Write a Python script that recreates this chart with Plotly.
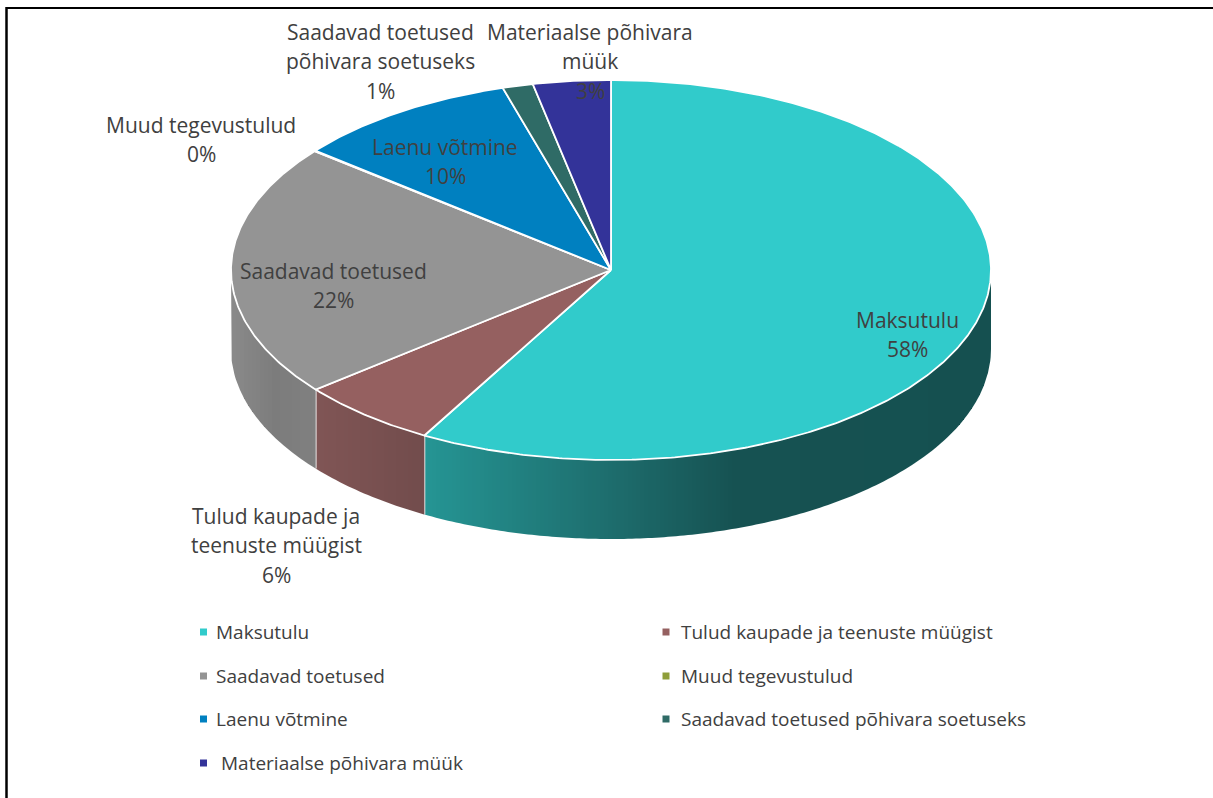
import math
import plotly.graph_objects as go

# ---- data ----
categories = ["Maksutulu", "Tulud kaupade ja teenuste müügist", "Saadavad toetused",
              "Muud tegevustulud", "Laenu võtmine", "Saadavad toetused põhivara soetuseks",
              "Materiaalse põhivara müük"]
values = [58.2, 6.0, 21.6, 0.05, 9.6, 1.3, 3.3]
label_lines = [["Maksutulu"], ["Tulud kaupade ja", "teenuste müügist"], ["Saadavad toetused"],
               ["Muud tegevustulud"], ["Laenu võtmine"], ["Saadavad toetused", "põhivara soetuseks"],
               ["Materiaalse põhivara", "müük"]]

# ---- style ----
top_colors = ["#31CBCB", "#956060", "#949494", "#8F9E3A", "#0080C0", "#2F6B66", "#333399"]
side_stops = {
    0: [(425, "#259594"), (620, "#1D6B6B"), (735, "#165252"), (991, "#155050")],
    1: [(316, "#805555"), (425, "#724C4C")],
    2: [(232, "#8A8A8A"), (275, "#7C7C7C"), (316, "#808080")],
}
CX, CY, RX, RY, DEPTH = 611, 270, 380, 190, 79
STRIP_PX = 4
label_pos = [(907, 320), (276, 516), (333, 271), (201, 125), (445, 147), (380, 32), (590, 32)]
LINE_H = 29.3
legend_pos = [(203.5, 632), (666, 632), (203.5, 676), (666, 676), (203.5, 719), (666, 719), (203.5, 763)]
legend_text_dx = [10.5, 12.5, 10.5, 12.5, 10.5, 12.5, 15.5]
FONT = "Open Sans"
LABEL_SIZE = 21
LEGEND_SIZE = 19
TEXT = "#404040"


def pt(theta, dy=0):
    return CX + RX * math.sin(theta), CY - RY * math.cos(theta) + dy


def hex2rgb(h):
    return [int(h[i:i + 2], 16) for i in (1, 3, 5)]


def side_color(i, x):
    stops = side_stops[i]
    if x <= stops[0][0]:
        return stops[0][1]
    for (x0, c0), (x1, c1) in zip(stops, stops[1:]):
        if x <= x1:
            t = (x - x0) / (x1 - x0)
            a, b = hex2rgb(c0), hex2rgb(c1)
            return "rgb(%d,%d,%d)" % tuple(round(p + (q - p) * t) for p, q in zip(a, b))
    return stops[-1][1]


total = sum(values)
edges = [0.0]
for v in values:
    edges.append(edges[-1] + v / total * 2 * math.pi)

fig = go.Figure()

# extruded side of the front half, cut in strips on whole pixels so the seams stay invisible
for i in range(len(values)):
    a0, a1 = max(edges[i], math.pi / 2), min(edges[i + 1], 3 * math.pi / 2)
    if a1 <= a0:
        continue
    x_hi, x_lo = pt(a0)[0], pt(a1)[0]
    cuts = [a0]
    x = math.floor(x_hi / STRIP_PX) * STRIP_PX
    while x > x_lo:
        cuts.append(math.pi - math.asin((x - CX) / RX))
        x -= STRIP_PX
    cuts.append(a1)
    for t0, t1 in zip(cuts, cuts[1:]):
        if t1 <= t0:
            continue
        sub = [t0 + (t1 - t0) * j / 6 for j in range(7)]
        top = [pt(t) for t in sub]
        bot = [pt(t, DEPTH) for t in reversed(sub)]
        xs = [p[0] for p in top + bot]
        ys = [p[1] for p in top + bot]
        c = side_color(i, (top[0][0] + top[-1][0]) / 2)
        fig.add_trace(go.Scatter(x=xs, y=ys, mode="lines", fill="toself", fillcolor=c,
                                 line=dict(width=0), hoverinfo="skip", showlegend=False))
    # white edge at the end of the slice's visible side
    if a1 < 3 * math.pi / 2:
        p, q = pt(a1), pt(a1, DEPTH)
        fig.add_trace(go.Scatter(x=[p[0], q[0]], y=[p[1], q[1]], mode="lines",
                                 line=dict(color="#F2F2F2", width=1.8), hoverinfo="skip", showlegend=False))

# top face
for i, name in enumerate(categories):
    n = max(2, int((edges[i + 1] - edges[i]) / math.radians(0.5)))
    pts = [pt(edges[i] + (edges[i + 1] - edges[i]) * k / n) for k in range(n + 1)]
    xs = [CX] + [p[0] for p in pts] + [CX]
    ys = [CY] + [p[1] for p in pts] + [CY]
    fig.add_trace(go.Scatter(x=xs, y=ys, mode="lines", fill="toself", fillcolor=top_colors[i],
                             line=dict(color="white", width=1.8), name=name,
                             hoverinfo="name", showlegend=False))

# legend built from markers and text
for i, name in enumerate(categories):
    lx, ly = legend_pos[i]
    fig.add_trace(go.Scatter(x=[lx], y=[ly], mode="markers", hoverinfo="skip", showlegend=False,
                             marker=dict(symbol="square", size=7, color=top_colors[i], line=dict(width=0))))
    fig.add_annotation(x=lx + legend_text_dx[i], y=ly, text=name, showarrow=False, xanchor="left",
                       yanchor="middle", font=dict(family=FONT, size=LEGEND_SIZE, color=TEXT))

# data labels, one annotation per line to hold the wide leading
for i, lines in enumerate(label_lines):
    lx, ly = label_pos[i]
    pct = "%d%%" % round(values[i] / total * 100)
    for j, s in enumerate(lines + [pct]):
        fig.add_annotation(x=lx, y=ly + j * LINE_H, text=s, showarrow=False, xanchor="center",
                           yanchor="middle", font=dict(family=FONT, size=LABEL_SIZE, color=TEXT))

fig.update_layout(
    width=1213, height=798, margin=dict(l=0, r=0, t=0, b=0),
    paper_bgcolor="white", plot_bgcolor="white", showlegend=False,
    xaxis=dict(range=[0, 1213], visible=False, fixedrange=True),
    yaxis=dict(range=[798, 0], visible=False, fixedrange=True),
    shapes=[
        dict(type="line", x0=6.5, x1=6.5, y0=7, y1=798, line=dict(color="black", width=2.5)),
        dict(type="line", x0=6, x1=1213, y0=8, y1=8, line=dict(color="black", width=2)),
    ],
)
fig.write_html("out.html", config=dict(displayModeBar=False),
               post_script="document.body.style.margin='0';document.body.style.overflow='hidden';")
